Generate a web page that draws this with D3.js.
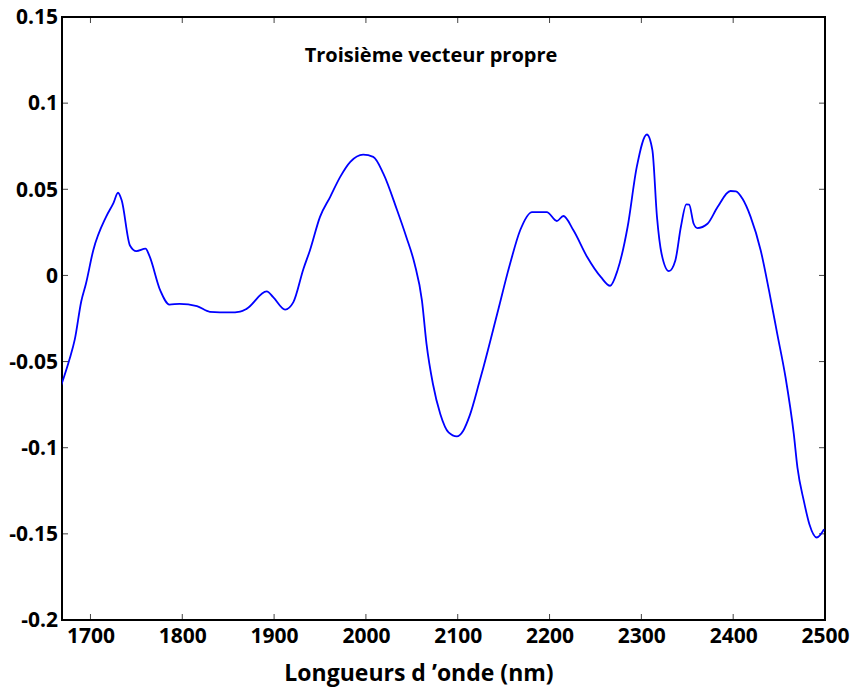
<!DOCTYPE html>
<html><head><meta charset="utf-8">
<script src="https://cdn.jsdelivr.net/npm/d3@7"></script>
<style>body{margin:0;background:#fff}svg{display:block}text{font-family:"Open Sans",Lato,sans-serif;font-weight:bold}</style>
</head><body><div id="chart"></div>
<script>
const wavelengths = [1668,1677,1683,1690,1695,1703,1717,1725,1730,1734,1743,1750,1760,1764,1776,1786,1797,1816,1830,1852,1863,1870,1892,1899,1912,1921,1932,1939,1950,1961,1972,1983,1997,2008,2019,2034,2044,2053,2061,2066,2073,2081,2090,2099,2106,2113,2124,2128,2143,2157,2168,2181,2197,2208,2215,2226,2241,2256,2266,2274,2285,2295,2306,2312,2317,2322,2330,2337,2343,2349,2352,2357,2361,2372,2383,2397,2403,2410,2419,2430,2439,2448,2457,2466,2470,2477,2483,2491,2499];
const values = [-0.064,-0.049,-0.037,-0.015,-0.005,0.0145,0.034,0.042,0.048,0.0436,0.0174,0.0141,0.0155,0.0116,-0.0087,-0.0169,-0.0165,-0.0178,-0.0211,-0.0215,-0.021,-0.0194,-0.0093,-0.0126,-0.0198,-0.0155,0.0039,0.0145,0.034,0.0455,0.0572,0.0659,0.0701,0.0688,0.0591,0.0378,0.0223,0.0068,-0.0145,-0.0397,-0.063,-0.0804,-0.0911,-0.0934,-0.0901,-0.0814,-0.061,-0.0533,-0.0223,0.0068,0.0262,0.0368,0.0368,0.0316,0.0345,0.0262,0.0107,-0.001,-0.006,0.0029,0.0281,0.063,0.0818,0.0727,0.034,0.0126,0.0025,0.0087,0.0281,0.0413,0.0411,0.03,0.0275,0.03,0.0397,0.049,0.0488,0.0446,0.034,0.0145,-0.0087,-0.0339,-0.0591,-0.092,-0.1115,-0.131,-0.1444,-0.1521,-0.1473];
const xTicks = [1700,1800,1900,2000,2100,2200,2300,2400,2500];
const yTicks = [-0.2,-0.15,-0.1,-0.05,0,0.05,0.1,0.15];
const yTickLabels = ["-0.2","-0.15","-0.1","-0.05","0","0.05","0.1","0.15"];
const title = "Troisième vecteur propre";
const xLabel = "Longueurs d \u2019onde (nm)";

const W = 852, H = 687;
const m = {left: 62, right: 27, top: 17, bottom: 67};
const svg = d3.select("#chart").append("svg").attr("width", W).attr("height", H);
const x = d3.scaleLinear().domain([1669, 2500]).range([m.left, W - m.right]);
const y = d3.scaleLinear().domain([-0.2, 0.15]).range([H - m.bottom, m.top]);

const tickLen = 6;
const g = svg.append("g");
xTicks.forEach(t => {
  g.append("line").attr("x1", x(t)).attr("x2", x(t)).attr("y1", y(-0.2)).attr("y2", y(-0.2) - tickLen).attr("stroke", "#444").attr("stroke-width", 1);
  g.append("line").attr("x1", x(t)).attr("x2", x(t)).attr("y1", y(0.15)).attr("y2", y(0.15) + tickLen).attr("stroke", "#444").attr("stroke-width", 1);
});
yTicks.forEach(t => {
  g.append("line").attr("x1", x(1669)).attr("x2", x(1669) + tickLen).attr("y1", y(t)).attr("y2", y(t)).attr("stroke", "#444").attr("stroke-width", 1);
  g.append("line").attr("x1", x(2500)).attr("x2", x(2500) - tickLen).attr("y1", y(t)).attr("y2", y(t)).attr("stroke", "#444").attr("stroke-width", 1);
});

const xAxis = d3.axisBottom(x).tickValues(xTicks).tickSize(0).tickPadding(8).tickFormat(d3.format("d"));
const xa = svg.append("g").attr("transform", `translate(0,${y(-0.2)})`).call(xAxis);
xa.select(".domain").remove();
xa.selectAll("text").attr("font-size", 21).attr("fill", "#000").style("font-family", "'Open Sans', sans-serif").style("font-weight", "bold");

const yAxis = d3.axisLeft(y).tickValues(yTicks).tickSize(0).tickPadding(4).tickFormat((d, i) => yTickLabels[i]);
const ya = svg.append("g").attr("transform", `translate(${x(1669)},0)`).call(yAxis);
ya.select(".domain").remove();
ya.selectAll("text").attr("font-size", 21).attr("fill", "#000").style("font-family", "'Open Sans', sans-serif").style("font-weight", "bold");

svg.append("rect").attr("x", x(1669)).attr("y", y(0.15)).attr("width", x(2500) - x(1669)).attr("height", y(-0.2) - y(0.15))
  .attr("fill", "none").attr("stroke", "#000").attr("stroke-width", 2);

svg.append("clipPath").attr("id", "clip").append("rect")
  .attr("x", x(1669)).attr("y", y(0.15)).attr("width", x(2500) - x(1669)).attr("height", y(-0.2) - y(0.15));

const data = wavelengths.map((w, i) => [w, values[i]]);
const line = d3.line().x(d => x(d[0])).y(d => y(d[1])).curve(d3.curveMonotoneX);
svg.append("path").attr("d", line(data)).attr("fill", "none").attr("stroke", "#0000ff").attr("stroke-width", 1.8).attr("clip-path", "url(#clip)");

svg.append("text").attr("x", 431).attr("y", 62).attr("text-anchor", "middle").attr("font-size", 20).text(title);
svg.append("text").attr("x", 419).attr("y", 681).attr("text-anchor", "middle").attr("font-size", 23).text(xLabel);
</script></body></html>
